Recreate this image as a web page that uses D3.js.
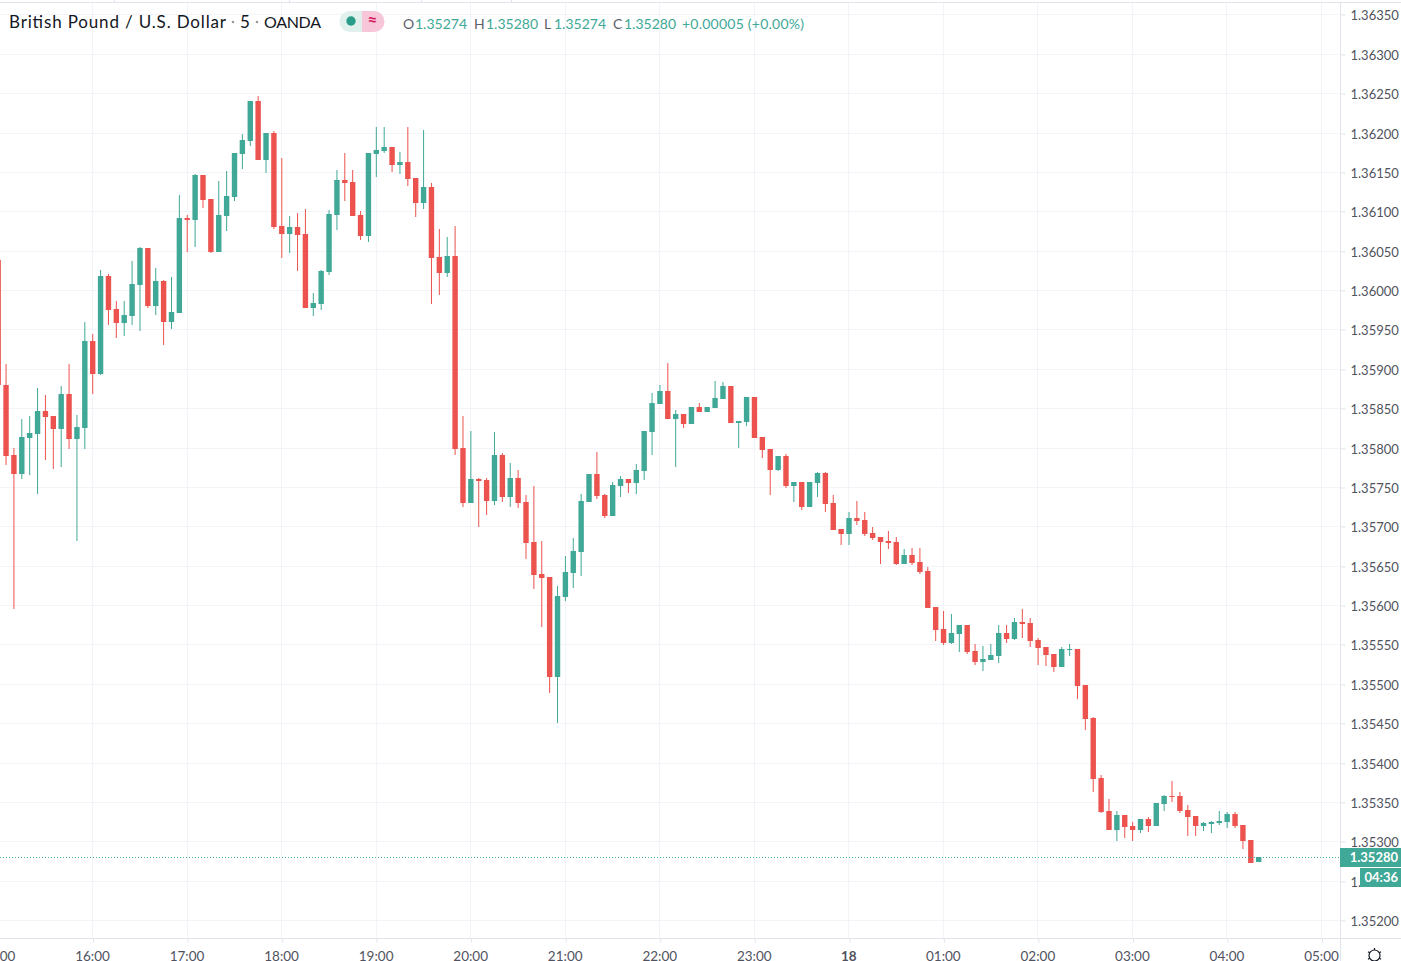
<!DOCTYPE html>
<html>
<head>
<meta charset="utf-8">
<title>GBPUSD 5m</title>
<script src="https://d3js.org/d3.v7.min.js"></script>
<style>
  html, body { margin: 0; padding: 0; background: #fff; overflow: hidden; }
  svg { display: block; font-family: Lato, sans-serif; }
</style>
</head>
<body>
<svg width="1401" height="961"></svg>
<script>
// 5 minute bars, first one is 15:00, prices in 1/100000
const open = [
  136038,135879,135790,135766,135812,135817,135846,135840,135823,135868,
  135811,135825,135935,135893,136018,135976,135958,135967,136006,136053,
  135980,136011,135959,135971,136091,136089,136146,136116,136048,136094,
  136118,136173,136189,136240,136165,136199,136081,136071,136080,136071,
  135977,135982,136023,136095,136140,136137,136095,136069,136173,136177,
  136182,136159,136163,136142,136110,136131,136042,136022,136043,135799,
  135730,135760,135759,135732,135790,135737,135761,135731,135680,135639,
  135636,135509,135610,135641,135667,135731,135766,135740,135713,135751,
  135760,135755,135770,135820,135855,135872,135836,135843,135830,135851,
  135845,135850,135862,135878,135831,135832,135864,135813,135798,135771,
  135789,135751,135756,135724,135755,135768,135730,135697,135690,135710,
  135708,135691,135686,135681,135680,135652,135663,135655,135643,135597,
  135570,135552,135563,135575,135542,135528,135530,135535,135564,135557,
  135578,135577,135556,135547,135538,135521,135543,135544,135498,135457,
  135380,135338,135314,135333,135319,135314,135328,135319,135347,135357,
  135357,135340,135332,135319,135322,135323,135324,135335,135321,135302,
  135274
];
const high = [
  136038,135906,135799,135836,135840,135876,135867,135840,135878,135906,
  135841,135959,135944,136025,136020,135986,135986,136037,136055,136053,
  136028,136013,136017,136121,136095,136147,136146,136116,136138,136151,
  136174,136198,136240,136246,136199,136202,136168,136094,136098,136103,
  135996,136025,136102,136152,136174,136152,136100,136174,136207,136207,
  136182,136175,136207,136142,136203,136136,136077,136067,136081,135840,
  135821,135761,135761,135820,135793,135780,135771,135740,135751,135681,
  135636,135624,135662,135685,135741,135766,135794,135741,135756,135764,
  135760,135779,135821,135869,135879,135907,135848,135843,135851,135857,
  135851,135884,135883,135878,135834,135864,135864,135813,135798,135789,
  135792,135756,135756,135756,135769,135769,135740,135697,135718,135732,
  135718,135699,135686,135694,135686,135671,135672,135672,135648,135597,
  135592,135589,135575,135575,135550,135548,135550,135575,135575,135583,
  135595,135583,135558,135547,135538,135547,135550,135544,135498,135458,
  135384,135354,135338,135333,135324,135328,135331,135349,135359,135377,
  135363,135346,135332,135324,135326,135338,135337,135337,135321,135302,
  135280
];
const low = [
  135879,135778,135595,135760,135765,135741,135784,135773,135775,135798,
  135681,135798,135868,135892,135956,135939,135942,135956,135948,135977,
  135968,135930,135950,135971,136048,136055,136104,136047,136048,136075,
  136113,136154,136183,136165,136149,136077,136041,136047,136024,135977,
  135967,135975,136019,136076,136113,136094,136063,136061,136143,136174,
  136150,136147,136132,136093,136103,135982,135994,136017,135790,135724,
  135730,135699,135714,135727,135731,135724,135723,135658,135620,135572,
  135488,135450,135605,135622,135637,135731,135735,135710,135713,135737,
  135742,135741,135759,135790,135855,135836,135775,135825,135830,135845,
  135845,135850,135862,135831,135799,135827,135812,135787,135740,135770,
  135749,135731,135721,135724,135737,135718,135695,135676,135676,135702,
  135688,135683,135652,135671,135651,135652,135651,135639,135596,135554,
  135549,135550,135540,135538,135524,135516,135530,135526,135552,135556,
  135558,135547,135524,135523,135515,135521,135535,135481,135441,135363,
  135336,135314,135300,135304,135300,135310,135312,135319,135338,135350,
  135336,135307,135307,135313,135310,135321,135317,135317,135290,135272,
  135274
];
const close = [
  135879,135789,135766,135813,135818,135846,135839,135823,135868,135811,
  135826,135935,135893,136018,135975,135958,135968,136008,136053,135980,
  136011,135959,135972,136091,136089,136146,136114,136048,136095,136119,
  136174,136190,136240,136165,136199,136080,136071,136080,136070,135977,
  135983,136024,136097,136140,136136,136094,136069,136174,136178,136182,
  136159,136163,136141,136110,136131,136041,136022,136043,135798,135730,
  135760,135757,135732,135790,135737,135761,135730,135679,135638,135634,
  135509,135611,135642,135669,135732,135766,135738,135713,135752,135760,
  135755,135771,135821,135857,135872,135836,135843,135830,135851,135845,
  135851,135863,135878,135831,135834,135864,135812,135797,135771,135789,
  135751,135756,135724,135756,135768,135728,135695,135690,135710,135707,
  135690,135685,135680,135679,135652,135663,135653,135642,135596,135568,
  135552,135564,135575,135540,135528,135531,135537,135564,135557,135578,
  135576,135554,135545,135537,135521,135544,135544,135497,135455,135379,
  135337,135314,135333,135318,135314,135328,135319,135349,135357,135356,
  135338,135331,135319,135323,135324,135326,135335,135319,135300,135272,
  135280
];

const priceTicks = [
  1.3635,1.363,1.3625,1.362,1.3615,1.361,1.3605,1.36,1.3595,1.359,1.3585,1.358,
  1.3575,1.357,1.3565,1.356,1.3555,1.355,1.3545,1.354,1.3535,1.353,1.3525,1.352
];
const hourTicks = [15,16,17,18,19,20,21,22,23,24,25,26,27,28,29];

const titleParts = ['British Pound / U.S. Dollar', '5', 'OANDA'];
const ohlcLabels = ['O','H','L','C'];
const ohlcValues = ['1.35274','1.35280','1.35274','1.35280'];
const lastPrice = 1.3528;
const changeText = '+0.00005 (+0.00%)';
const countdown = '04:36';

const upColor = '#40a896';
const downColor = '#ec534e';
const gridColor = '#f3f4f9';
const borderColor = '#e0e3eb';
const axisText = '#50535e';

const svg = d3.select('svg');
const width = +svg.attr('width');
const height = +svg.attr('height');
const paneW = 1340;
const paneTop = 2;
const paneBottom = 938;

const startTime = Date.UTC(2020, 11, 17, 15, 0);
const atHour = h => new Date(startTime + (h - 15) * 3600000);

const candles = d3.range(open.length).map(i => ({
  time: d3.utcMinute.offset(new Date(startTime), i * 5),
  o: open[i] / 1e5, h: high[i] / 1e5, l: low[i] / 1e5, c: close[i] / 1e5
}));

// 16:00 is at 92.5 and 05:00 at 1321.5
const xScale = d3.scaleUtc().domain([atHour(16), atHour(29)]).range([92.5, 1321.5]);
// 1.36000 is on pixel row 290, 1.35200 on row 920
const yScale = d3.scaleLinear().domain([1.36, 1.352]).range([290, 920]);
const row = p => Math.round(yScale(p));

// grid
const grid = svg.append('g').attr('id', 'grid').attr('fill', gridColor);
grid.selectAll('.hgrid').data(priceTicks).enter().append('rect')
  .attr('class', 'hgrid')
  .attr('x', 0).attr('width', paneW).attr('height', 1)
  .attr('y', d => row(d));
grid.selectAll('.vgrid').data(hourTicks).enter().append('rect')
  .attr('class', 'vgrid')
  .attr('x', d => Math.floor(xScale(atHour(d))))
  .attr('width', 1)
  .attr('y', paneTop + 1).attr('height', paneBottom - paneTop - 1);

// candles
svg.append('clipPath').attr('id', 'pane').append('rect')
  .attr('width', paneW).attr('height', paneBottom);
const marks = svg.append('g').attr('clip-path', 'url(#pane)');
const colorOf = d => (d.c >= d.o ? upColor : downColor);

marks.selectAll('.wick').data(candles).enter().append('rect')
  .attr('class', 'wick')
  .attr('x', d => xScale(d.time) - 0.3)
  .attr('width', 1)
  .attr('y', d => row(d.h))
  .attr('height', d => Math.max(row(d.l) - row(d.h), 1))
  .attr('fill', colorOf);

marks.selectAll('.body').data(candles).enter().append('rect')
  .attr('class', 'body')
  .attr('x', d => xScale(d.time) - 2.5)
  .attr('width', 5.4)
  .attr('y', d => row(Math.max(d.o, d.c)))
  .attr('height', d => Math.max(row(Math.min(d.o, d.c)) - row(Math.max(d.o, d.c)), 1))
  .attr('fill', colorOf);

// last price dotted line
marks.append('line')
  .attr('x1', 0).attr('x2', paneW)
  .attr('y1', row(lastPrice) + 0.5).attr('y2', row(lastPrice) + 0.5)
  .attr('stroke', upColor).attr('stroke-dasharray', '1 2');

// pane borders
svg.append('rect').attr('x', 0).attr('y', paneTop).attr('width', width).attr('height', 1).attr('fill', borderColor);
svg.append('rect').attr('x', paneW).attr('y', paneTop).attr('width', 1).attr('height', height - paneTop).attr('fill', borderColor);
svg.append('rect').attr('x', 0).attr('y', paneBottom).attr('width', width).attr('height', 1).attr('fill', borderColor);

// price axis
const gY = svg.append('g').attr('id', 'yAxis')
  .attr('transform', `translate(${paneW + 0.5},0.5)`)
  .call(d3.axisRight(yScale).tickValues(priceTicks).tickSize(5).tickPadding(5).tickFormat(d3.format('.5f')));
gY.select('.domain').remove();
gY.selectAll('line').attr('stroke', borderColor)
  .attr('transform', d => `translate(0,${row(d) - yScale(d)})`);
gY.selectAll('text').attr('fill', axisText).attr('font-size', 13)
  .attr('font-family', 'Lato, sans-serif')
  .attr('transform', d => `translate(0,${row(d) - yScale(d) + 0.5})`);

// time axis
const gX = svg.append('g').attr('id', 'xAxis')
  .attr('transform', `translate(-0.5,${paneBottom + 0.5})`)
  .call(d3.axisBottom(xScale).tickValues(hourTicks.map(atHour)).tickSize(4).tickPadding(8.5)
    .tickFormat(d => (d.getUTCHours() === 0 ? d3.utcFormat('%d')(d) : d3.utcFormat('%H:%M')(d))));
gX.select('.domain').remove();
gX.selectAll('line').attr('stroke', borderColor).attr('transform', 'translate(1,0)');
gX.selectAll('text').attr('fill', axisText).attr('font-size', 13.5)
  .attr('font-family', 'Lato, sans-serif')
  .attr('font-weight', d => (d.getUTCHours() === 0 ? 700 : 400));

// last price + countdown labels on the axis
svg.append('rect').attr('x', paneW).attr('y', 848).attr('width', width - paneW).attr('height', 19).attr('fill', upColor);
svg.append('text').attr('x', 1398).attr('y', 862).attr('text-anchor', 'end')
  .attr('fill', '#fff').attr('font-size', 13).attr('font-weight', 700).text(lastPrice.toFixed(5));
svg.append('rect').attr('x', 1360).attr('y', 868).attr('width', width - 1360).attr('height', 19).attr('fill', upColor);
svg.append('text').attr('x', 1398).attr('y', 882).attr('text-anchor', 'end')
  .attr('fill', '#fff').attr('font-size', 13).attr('font-weight', 700).text(countdown);

// settings icon
const gear = svg.append('g').attr('transform', 'translate(1374.5,955.5)')
  .attr('stroke', '#131722').attr('fill', 'none').attr('stroke-width', 1.2);
gear.append('circle').attr('r', 5.5);
gear.selectAll('line').data(d3.range(6)).enter().append('line')
  .attr('y1', -5.5).attr('y2', -7.5)
  .attr('transform', d => `rotate(${d * 60})`);

// title
const title = svg.append('g').attr('fill', '#131722').attr('font-size', 17);
title.append('text').attr('x', 9).attr('y', 27.5).attr('textLength', 217).text(titleParts[0]);
title.append('text').attr('x', 240).attr('y', 27.5).text(titleParts[1]);
title.append('text').attr('x', 264).attr('y', 27.5).attr('textLength', 57).attr('font-size', 16).text(titleParts[2]);
title.selectAll('.sep').data([233, 257]).enter().append('circle')
  .attr('class', 'sep').attr('cx', d => d).attr('cy', 22).attr('r', 1.3).attr('fill', '#9598a1');

// market status pill
svg.append('path').attr('d', 'M362 11H350a10.5 10.5 0 0 0 0 21H362Z').attr('fill', '#e0f0ed');
svg.append('path').attr('d', 'M362 11H374a10.5 10.5 0 0 1 0 21H362Z').attr('fill', '#f7c6d9');
svg.append('circle').attr('cx', 351).attr('cy', 21).attr('r', 4.7).attr('fill', '#2a9d8a');
svg.append('text').attr('x', 372.5).attr('y', 26).attr('text-anchor', 'middle')
  .attr('fill', '#d81b60').attr('font-size', 17).attr('font-weight', 700).text('\u2248');

// OHLC legend
const legend = svg.append('g').attr('font-size', 14);
const labelX = [403, 474, 544, 613];
const valueX = [415, 486, 554, 624];
legend.selectAll('.lab').data(ohlcLabels).enter().append('text')
  .attr('class', 'lab').attr('x', (d, i) => labelX[i]).attr('y', 29).attr('fill', '#5d606b').text(d => d);
legend.selectAll('.val').data(ohlcValues).enter().append('text')
  .attr('class', 'val').attr('x', (d, i) => valueX[i]).attr('y', 29).attr('fill', upColor)
  .attr('textLength', 52).text(d => d);
legend.append('text').attr('x', 682).attr('y', 29).attr('fill', upColor)
  .attr('textLength', 122).text(changeText);

// separators of the toolbar above the chart
svg.selectAll('.sepTop').data([114, 289, 421, 511]).enter().append('rect')
  .attr('class', 'sepTop').attr('x', d => d).attr('y', 0).attr('width', 1).attr('height', 2).attr('fill', borderColor);
</script>
</body>
</html>
